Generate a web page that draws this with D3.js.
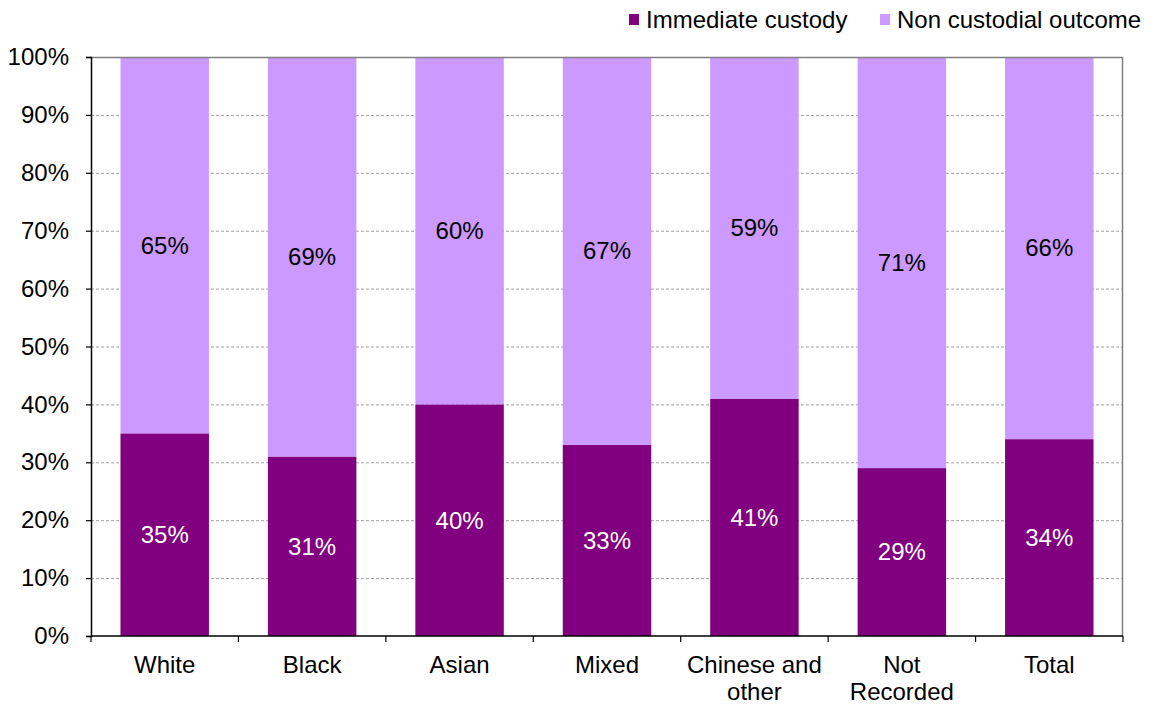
<!DOCTYPE html>
<html>
<head>
<meta charset="utf-8">
<script src="https://cdn.jsdelivr.net/npm/d3@7"></script>
<style>
  html, body { margin: 0; padding: 0; background: #fff; }
  svg { display: block; font-family: "Liberation Sans", Arial, sans-serif; }
</style>
</head>
<body>
<svg id="chart" width="1158" height="709"></svg>
<script>
// Sentencing outcome shares by ethnic group
const categories = [["White"], ["Black"], ["Asian"], ["Mixed"], ["Chinese and", "other"], ["Not", "Recorded"], ["Total"]];
const seriesNames = ["Immediate custody", "Non custodial outcome"];
const immediateCustody = [35, 31, 40, 33, 41, 29, 34];
const nonCustodial = [65, 69, 60, 67, 59, 71, 66];
const yTicks = [0, 10, 20, 30, 40, 50, 60, 70, 80, 90, 100];
const colors = ["#800080", "#cc99ff"];

const FONT = 24;
const svg = d3.select("#chart");
const margin = { left: 91, right: 35, top: 57, bottom: 73 };
const W = 1158, H = 709;
const x0 = margin.left, x1 = W - margin.right, y0 = margin.top, y1 = H - margin.bottom;

const keys = categories.map(c => c.join(" "));
const x = d3.scaleBand().domain(keys).range([x0, x1]).paddingInner(0.4).paddingOuter(0.2);
const y = d3.scaleLinear().domain([0, 100]).range([y1, y0]);

// gridlines
svg.append("g").selectAll("line")
  .data(yTicks.filter(t => t > 0 && t < 100))
  .join("line")
  .attr("x1", x0).attr("x2", x1)
  .attr("y1", d => y(d) + 0.5).attr("y2", d => y(d) + 0.5)
  .attr("stroke", "#a0a0a0").attr("stroke-width", 1)
  .attr("stroke-dasharray", "3,2");

// stacked data
const rows = keys.map((k, i) => ({ key: k, immediate: immediateCustody[i], non: nonCustodial[i] }));
const stack = d3.stack().keys(["immediate", "non"]);
const layers = stack(rows);

svg.append("g").selectAll("g")
  .data(layers)
  .join("g")
  .attr("fill", (d, i) => colors[i])
  .selectAll("rect")
  .data(d => d)
  .join("rect")
  .attr("x", d => x(d.data.key))
  .attr("width", x.bandwidth())
  .attr("y", d => y(Math.min(d[1], 100)))
  .attr("height", d => y(d[0]) - y(Math.min(d[1], 100)));

// value labels
layers.forEach((layer, li) => {
  svg.append("g").selectAll("text")
    .data(layer)
    .join("text")
    .attr("x", d => x(d.data.key) + x.bandwidth() / 2)
    .attr("y", d => (y(d[0]) + y(Math.min(d[1], 100))) / 2)
    .attr("dy", "0.35em")
    .attr("text-anchor", "middle")
    .attr("font-size", FONT)
    .attr("fill", li === 0 ? "#ffffff" : "#000000")
    .text(d => (d[1] - d[0]) + "%");
});

// frame: top and right in grey
svg.append("line").attr("x1", x0).attr("x2", x1).attr("y1", y0 + 0.5).attr("y2", y0 + 0.5)
  .attr("stroke", "#808080").attr("stroke-width", 1.5);
svg.append("line").attr("x1", x1 - 0.5).attr("x2", x1 - 0.5).attr("y1", y0).attr("y2", y1)
  .attr("stroke", "#808080").attr("stroke-width", 1.5);

// y axis
const yAxis = d3.axisLeft(y).tickValues(yTicks).tickSize(5).tickPadding(17).tickFormat(d => d + "%");
const gy = svg.append("g").attr("transform", `translate(${x0},0)`).call(yAxis);
gy.select(".domain").attr("stroke", "#000").attr("stroke-width", 1.5);
gy.selectAll(".tick line").attr("stroke", "#000").attr("stroke-width", 1.2);
gy.selectAll(".tick text").attr("font-size", FONT).attr("fill", "#000")
  .attr("font-family", "'Liberation Sans', Arial, sans-serif");

// x axis with ticks between categories
const gx = svg.append("g").attr("transform", `translate(0,${y1})`);
gx.append("line").attr("x1", x0).attr("x2", x1).attr("stroke", "#000").attr("stroke-width", 1.5);
const bounds = d3.range(keys.length + 1).map(i => x0 + i * x.step());
gx.selectAll("line.tk").data(bounds).join("line").attr("class", "tk")
  .attr("x1", d => d).attr("x2", d => d).attr("y1", 0).attr("y2", 6)
  .attr("stroke", "#000").attr("stroke-width", 1.2);
gx.selectAll("text").data(categories).join("text")
  .attr("x", (d, i) => x(keys[i]) + x.bandwidth() / 2)
  .attr("y", 37)
  .attr("text-anchor", "middle")
  .attr("font-size", FONT)
  .attr("fill", "#000")
  .selectAll("tspan").data(d => d).join("tspan")
  .attr("x", function () { return d3.select(this.parentNode).attr("x"); })
  .attr("dy", (d, i) => i === 0 ? 0 : 27)
  .text(d => d);

// legend
const legendItems = [
  { name: seriesNames[0], color: colors[0], x: 629 },
  { name: seriesNames[1], color: colors[1], x: 880 }
];
const lg = svg.append("g");
legendItems.forEach(it => {
  lg.append("rect").attr("x", it.x).attr("y", 14).attr("width", 10).attr("height", 11).attr("fill", it.color);
  lg.append("text").attr("x", it.x + 17).attr("y", 19.5).attr("dy", "0.35em")
    .attr("font-size", FONT).attr("fill", "#000").text(it.name);
});
</script>
</body>
</html>
